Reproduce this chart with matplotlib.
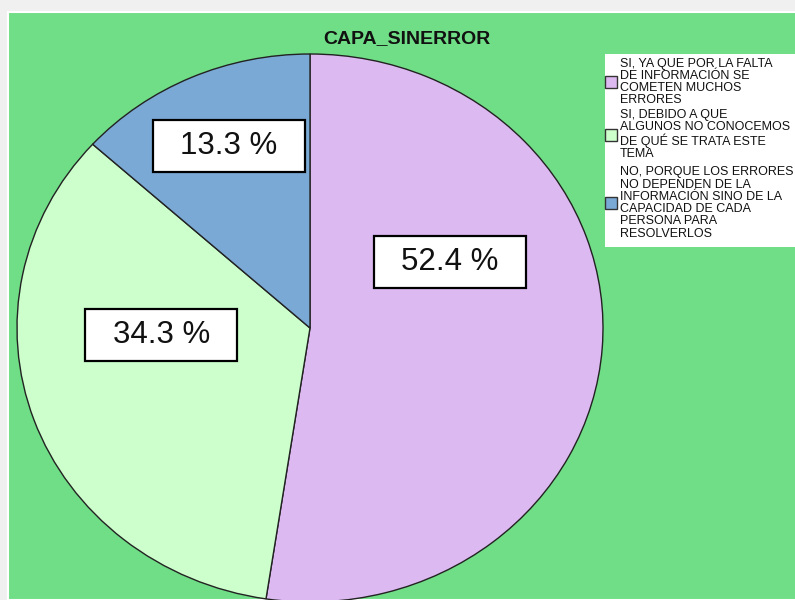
import matplotlib
matplotlib.use("Agg")
import matplotlib.pyplot as plt
from matplotlib.patches import Rectangle

plt.rcParams["font.family"] = ["Liberation Sans", "DejaVu Sans"]

# data
title = "CAPA_SINERROR"
categories = [
    "SI, YA QUE POR LA FALTA\nDE INFORMACIÓN SE\nCOMETEN MUCHOS\nERRORES",
    "SI, DEBIDO A QUE\nALGUNOS NO CONOCEMOS\nDE QUÉ SE TRATA ESTE\nTEMA",
    "NO, PORQUE LOS ERRORES\nNO DEPENDEN DE LA\nINFORMACIÓN SINO DE LA\nCAPACIDAD DE CADA\nPERSONA PARA\nRESOLVERLOS",
]
percents = [52.4, 34.3, 13.3]
colors = ["#DDB9F2", "#CCFFCC", "#7AA9D6"]

# label box centres (pie data units) and legend rows (px from top)
label_x = [0.478, -0.507, -0.278]
label_y = [0.241, -0.026, 0.666]
legend_y = [82, 134.5, 203]

W, H = 795, 600
fig = plt.figure(figsize=(W / 100, H / 100), dpi=100)
fig.patch.set_facecolor("#F0F0F0")

def fx(px):
    return px / W

def fy(py):
    return 1 - py / H

# green plot area
fig.add_artist(Rectangle((fx(8), 0), 1, fy(12), transform=fig.transFigure,
                         facecolor="#70DE86", edgecolor="white", linewidth=1.5,
                         zorder=-1))

# pie (slightly wider than tall, like the original)
cx, cy, rx, ry = 310, 328, 293, 274
ax = fig.add_axes([fx(cx - rx), fy(cy + ry), 2 * rx / W, 2 * ry / H])
ax.pie(percents, colors=colors, startangle=90, counterclock=False,
       wedgeprops=dict(edgecolor="#222222", linewidth=1.0))
ax.set_aspect("auto")
ax.set_xlim(-1, 1)
ax.set_ylim(-1, 1)
ax.axis("off")

bw, bh = 152 / rx, 52 / ry
for p, x, y in zip(percents, label_x, label_y):
    ax.add_patch(Rectangle((x - bw / 2, y - bh / 2), bw, bh, facecolor="white",
                           edgecolor="black", linewidth=1.6, zorder=3))
    ax.text(x, y, f"{p:.1f} %", ha="center", va="center", fontsize=22.5,
            color="#111111", zorder=4)

fig.text(fx(406.5), fy(39), title, ha="center", va="center", fontsize=14,
         fontweight="bold", color="#111111")

# legend
fig.add_artist(Rectangle((fx(605), fy(247)), 1, fy(54) - fy(247),
                         transform=fig.transFigure, facecolor="white",
                         edgecolor="none", zorder=2))
for lab, c, y in zip(categories, colors, legend_y):
    fig.add_artist(Rectangle((fx(605), fy(y + 6)), 12 / W, 12 / H,
                             transform=fig.transFigure, facecolor=c,
                             edgecolor="#333333", linewidth=1, zorder=3))
    fig.text(fx(620), fy(y), lab, ha="left", va="center", fontsize=9,
             linespacing=1.03, color="#111111", zorder=4)

fig.savefig("out.png", dpi=100, facecolor=fig.get_facecolor())
